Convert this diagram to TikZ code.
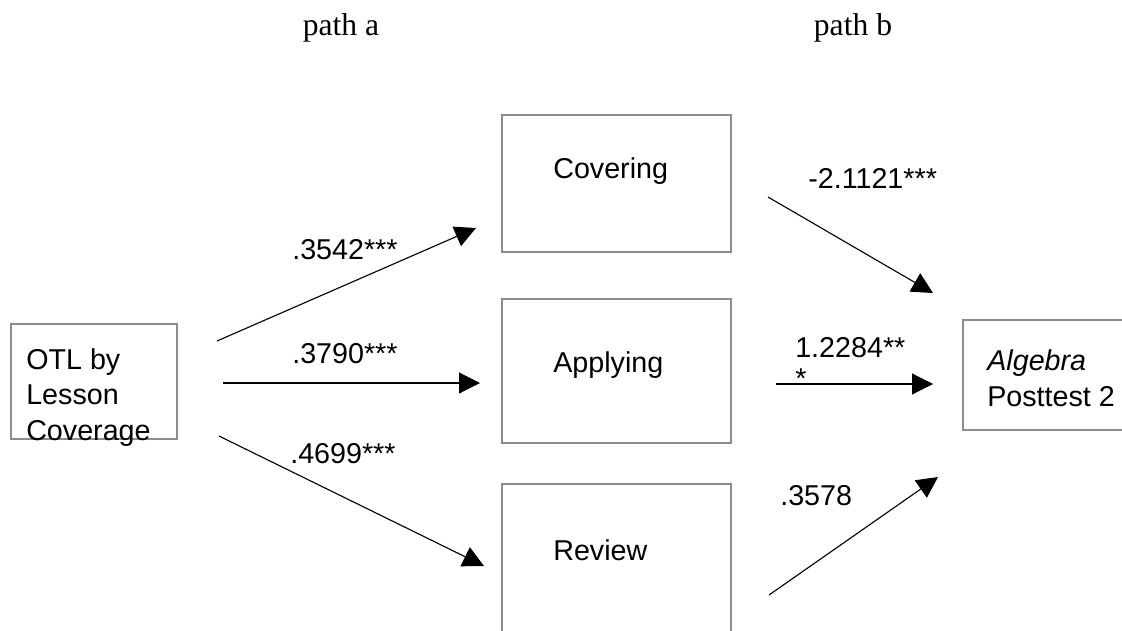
\documentclass[tikz,border=0pt]{standalone}
\usepackage{fontspec}
\setmainfont{Liberation Sans}
\newfontfamily\pathfont{Liberation Serif}
\usetikzlibrary{arrows.meta}
\definecolor{boxgray}{RGB}{138,140,142}
\tikzset{
  varbox/.style={draw=boxgray, line width=1.4pt, anchor=north west, inner sep=0pt},
  lbl/.style={anchor=base west, inner sep=0pt, align=left, font=\fontsize{20.4}{24.9}\selectfont},
  effect/.style={-{Triangle[length=0.525cm, width=0.525cm]}, line width=0.8pt},
}
\begin{document}
\begin{tikzpicture}[x=0.025cm, y=-0.025cm]
  \clip (0, 0) rectangle (1122, 630);
  %\draw[lightgray] (0, 0) grid[step=50] (1122, 630);
  \node[anchor=base, inner sep=0pt, font=\pathfont\fontsize{22.5}{27}\selectfont] (patha) at (341, 36) {path a};
  \node[anchor=base, inner sep=0pt, font=\pathfont\fontsize{22.5}{27}\selectfont] (pathb) at (853, 36) {path b};
  % boxes
  \node[varbox, minimum width=4.15cm, minimum height=2.875cm] (otl) at (10, 323) {};
  \node[varbox, minimum width=5.725cm, minimum height=3.425cm] (cov) at (501, 114) {};
  \node[varbox, minimum width=5.725cm, minimum height=3.6cm] (app) at (501, 298) {};
  \node[varbox, minimum width=5.725cm, minimum height=5cm] (rev) at (501, 483) {};
  \node[varbox, minimum width=4.6cm, minimum height=2.75cm] (alg) at (962, 319) {};
  % multi-line labels sit on their last line
  \node[lbl] (otltxt) at (26, 440) {OTL by\\Lesson\\Coverage};
  \node[lbl] (covtxt) at (553, 179) {Covering};
  \node[lbl] (apptxt) at (553, 372) {Applying};
  \node[lbl] (revtxt) at (553, 560) {Review};
  \node[lbl] (algtxt) at (987, 406) {\textit{Algebra}\\Posttest 2};
  % path a
  \coordinate (a1s) at (217, 341);
  \coordinate (a1e) at (476, 228);
  \coordinate (a2s) at (223, 383);
  \coordinate (a2e) at (480, 383);
  \coordinate (a3s) at (219, 436);
  \coordinate (a3e) at (484, 566);
  \draw[effect] (a1s) -- (a1e);
  \draw[effect] (a2s) -- (a2e);
  \draw[effect] (a3s) -- (a3e);
  \node[lbl] (acov) at (292, 259) {.3542***};
  \node[lbl] (aapp) at (292, 363) {.3790***};
  \node[lbl] (arev) at (290, 463) {.4699***};
  % path b
  \coordinate (b1s) at (768, 197);
  \coordinate (b1e) at (933, 293);
  \coordinate (b2s) at (776, 384);
  \coordinate (b2e) at (933, 384);
  \coordinate (b3s) at (769, 595);
  \coordinate (b3e) at (938, 477);
  \draw[effect] (b1s) -- (b1e);
  \draw[effect] (b2s) -- (b2e);
  \draw[effect] (b3s) -- (b3e);
  \node[lbl] (bcov) at (808, 188) {-2.1121***};
  \node[lbl, font=\fontsize{20.4}{22}\selectfont] (bapp) at (795, 388) {1.2284**\\*};
  \node[lbl] (brev) at (780, 505) {.3578};
\end{tikzpicture}
\end{document}
